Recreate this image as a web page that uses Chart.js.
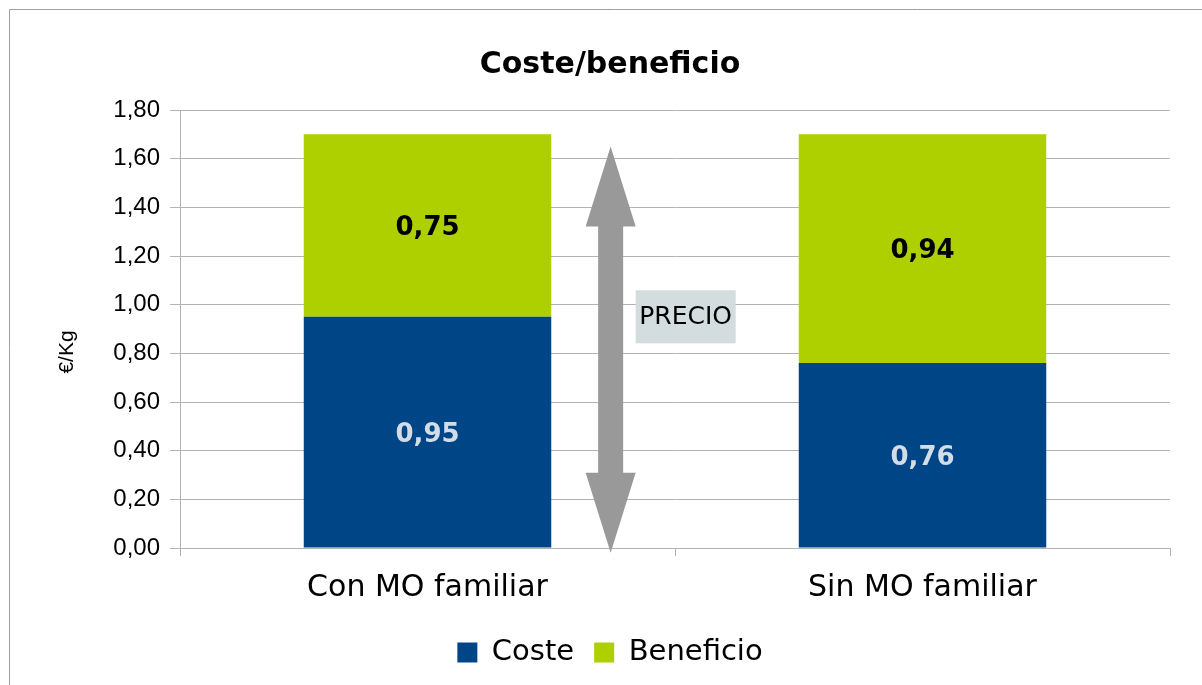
<!DOCTYPE html>
<html>
<head>
<meta charset="utf-8">
<script src="https://cdn.jsdelivr.net/npm/chart.js@4.4.0/dist/chart.umd.min.js"></script>
<style>
  html, body { margin: 0; padding: 0; background: #fff; overflow: hidden; }
  #wrap { position: relative; width: 1202px; height: 685px; overflow: hidden; }
</style>
</head>
<body>
<div id="wrap"><canvas id="chart" width="1220" height="685"></canvas></div>
<script>
// --- Données ---
const categories = ['Con MO familiar', 'Sin MO familiar'];
const costeValues = [0.95, 0.76];
const beneficioValues = [0.75, 0.94];
const yTickValues = [0, 0.2, 0.4, 0.6, 0.8, 1.0, 1.2, 1.4, 1.6, 1.8];
const seriesNames = ['Coste', 'Beneficio'];
const precioText = 'PRECIO';
const precioFrom = -0.02;   // bas de la flèche (€/Kg)
const precioTo = 1.65;      // haut de la flèche (€/Kg)

const fmt = v => v.toFixed(2).replace('.', ',');

// cadre gris autour du graphique
const framePlugin = {
    id: 'frame',
    beforeDraw(chart) {
        const ctx = chart.ctx;
        ctx.save();
        ctx.strokeStyle = '#a0a0a0';
        ctx.lineWidth = 1;
        ctx.beginPath();
        ctx.moveTo(9.5, 685);
        ctx.lineTo(9.5, 9.5);
        ctx.lineTo(chart.width, 9.5);
        ctx.stroke();
        ctx.restore();
    }
};

// étiquettes de valeur au centre de chaque segment
const valueLabels = {
    id: 'valueLabels',
    afterDatasetsDraw(chart) {
        const ctx = chart.ctx;
        const colors = ['#d3dde8', '#000000'];
        ctx.save();
        ctx.font = 'bold 26px "DejaVu Sans"';
        ctx.textAlign = 'center';
        ctx.textBaseline = 'middle';
        chart.data.datasets.forEach((ds, i) => {
            chart.getDatasetMeta(i).data.forEach((bar, j) => {
                ctx.fillStyle = colors[i];
                ctx.fillText(fmt(ds.data[j]), bar.x, (bar.y + bar.base) / 2 + 3);
            });
        });
        ctx.restore();
    }
};

// flèche double "PRECIO" entre les deux barres
const precioArrow = {
    id: 'precioArrow',
    afterDatasetsDraw(chart) {
        const ctx = chart.ctx;
        const xs = chart.scales.x, ys = chart.scales.y;
        const x = xs.getPixelForValue(0.37);
        const top = ys.getPixelForValue(precioTo);
        const bot = ys.getPixelForValue(precioFrom);
        const shaft = 12.5, head = 25, headLen = 80;
        ctx.save();
        ctx.fillStyle = '#999999';
        ctx.beginPath();
        ctx.moveTo(x, top);
        ctx.lineTo(x + head, top + headLen);
        ctx.lineTo(x + shaft, top + headLen);
        ctx.lineTo(x + shaft, bot - headLen);
        ctx.lineTo(x + head, bot - headLen);
        ctx.lineTo(x, bot);
        ctx.lineTo(x - head, bot - headLen);
        ctx.lineTo(x - shaft, bot - headLen);
        ctx.lineTo(x - shaft, top + headLen);
        ctx.lineTo(x - head, top + headLen);
        ctx.closePath();
        ctx.fill();

        // boîte du texte
        const cy = ys.getPixelForValue(0.95);
        const bx = x + head, bw = 100, bh = 53;
        ctx.fillStyle = '#d3dcdf';
        ctx.fillRect(bx, cy - bh / 2, bw, bh);
        ctx.fillStyle = '#000';
        ctx.font = '25px "DejaVu Sans"';
        ctx.textAlign = 'center';
        ctx.textBaseline = 'middle';
        ctx.fillText(precioText, bx + bw / 2, cy + 1);
        ctx.restore();
    }
};

// titre de l'axe Y, un peu plus bas que le centre comme dans l'original
const yTitlePlugin = {
    id: 'yTitle',
    afterDraw(chart) {
        const ctx = chart.ctx;
        const ys = chart.scales.y;
        ctx.save();
        ctx.translate(67, (ys.top + ys.bottom) / 2 + 23);
        ctx.rotate(-Math.PI / 2);
        ctx.font = '21px "Liberation Sans"';
        ctx.fillStyle = '#000';
        ctx.textAlign = 'center';
        ctx.textBaseline = 'middle';
        ctx.fillText('€/Kg', 0, 0);
        ctx.restore();
    }
};

new Chart(document.getElementById('chart'), {
    type: 'bar',
    data: {
        labels: categories,
        datasets: [
            { label: seriesNames[0], data: costeValues, backgroundColor: '#004586' },
            { label: seriesNames[1], data: beneficioValues, backgroundColor: '#aecf00' }
        ]
    },
    options: {
        responsive: false,
        animation: false,
        devicePixelRatio: 1,
        layout: { padding: { left: 50, right: 50, top: 0, bottom: 8 } },
        datasets: { bar: { barPercentage: 0.5, categoryPercentage: 1.0 } },
        plugins: {
            title: {
                display: true,
                text: 'Coste/beneficio',
                color: '#000',
                font: { family: '"DejaVu Sans"', size: 30, weight: 'bold', lineHeight: 1.2 },
                padding: { top: 47, bottom: 27 }
            },
            legend: {
                position: 'bottom',
                labels: {
                    color: '#000',
                    font: { family: '"DejaVu Sans"', size: 29 },
                    boxWidth: 20, boxHeight: 20, padding: 20
                }
            },
            tooltip: { enabled: false }
        },
        scales: {
            x: {
                stacked: true,
                grid: { display: true, drawOnChartArea: false, color: '#b3b3b3', tickLength: 8 },
                border: { color: '#b3b3b3' },
                ticks: { color: '#000', font: { family: '"DejaVu Sans"', size: 30 }, padding: 14 },
                afterFit(scale) { scale.height = 70; }
            },
            y: {
                stacked: true,
                min: 0, max: 1.8,
                afterBuildTicks(scale) { scale.ticks = yTickValues.map(v => ({ value: v })); },
                grid: { color: '#b3b3b3', tickLength: 10 },
                border: { color: '#b3b3b3' },
                ticks: {
                    color: '#000',
                    font: { family: '"Liberation Sans"', size: 24 },
                    padding: 10,
                    callback: v => fmt(v)
                },
                afterFit(scale) { scale.width = 130; }
            }
        }
    },
    plugins: [framePlugin, valueLabels, precioArrow, yTitlePlugin]
});
</script>
</body>
</html>
